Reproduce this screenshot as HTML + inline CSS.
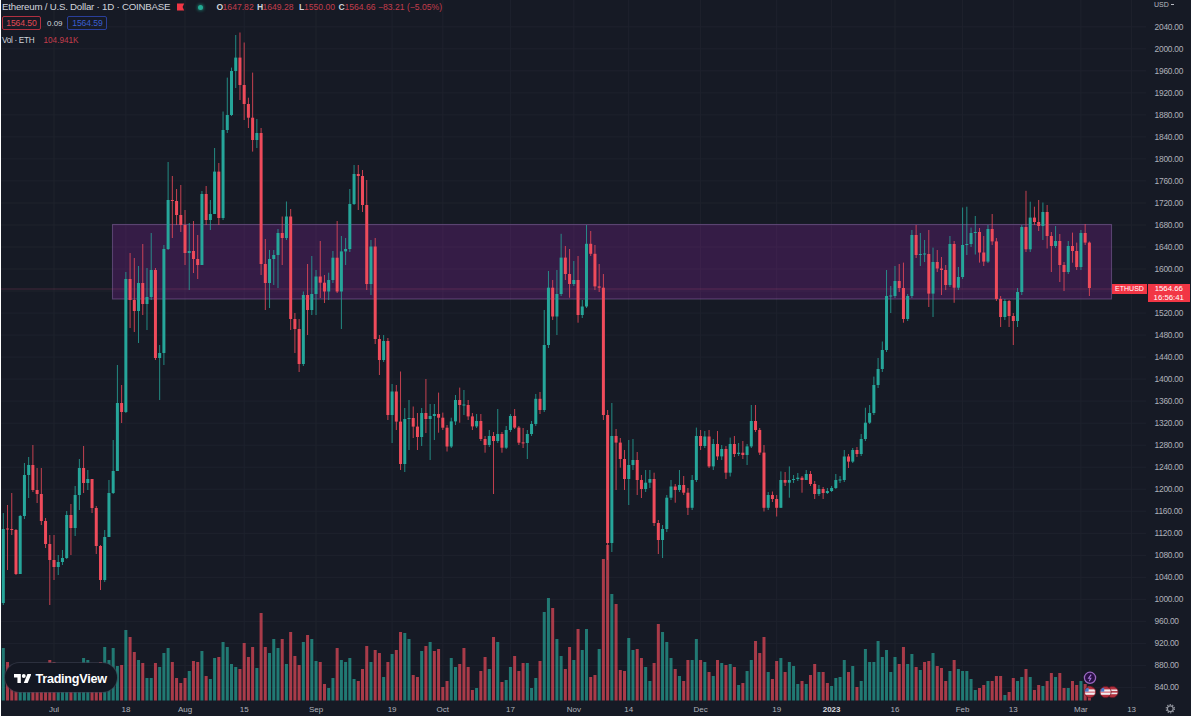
<!DOCTYPE html>
<html><head><meta charset="utf-8"><title>ETHUSD chart</title>
<style>
html,body{margin:0;padding:0;background:#fff;}
body{width:1194px;height:718px;position:relative;overflow:hidden;font-family:"Liberation Sans",Arial,sans-serif;}
#chart{position:absolute;left:1px;top:0;width:1190px;height:716px;background:#161a25;overflow:hidden;}
svg{position:absolute;left:0;top:0;}
.pa text{font-size:8.4px;letter-spacing:-0.25px;fill:#aeb1ba;}
.ta text{font-size:8px;fill:#aeb1ba;}
.ta text.b{font-weight:bold;fill:#d6d8de;}
.t{position:absolute;white-space:nowrap;line-height:1;}
.hdr{color:#d1d4dc;font-size:9.6px;}
.red{color:#c23d4c;}
.box{position:absolute;border:1px solid;border-radius:2px;font-size:8.6px;line-height:12.5px;letter-spacing:-0.1px;text-align:center;box-sizing:border-box;}
</style></head>
<body>
<div id="chart"></div>
<svg width="1194" height="718" viewBox="0 0 1194 718">
<line x1="1" y1="26.8" x2="1146" y2="26.8" stroke="#1e222d" stroke-width="1"/>
<line x1="1" y1="48.8" x2="1146" y2="48.8" stroke="#1e222d" stroke-width="1"/>
<line x1="1" y1="70.8" x2="1146" y2="70.8" stroke="#1e222d" stroke-width="1"/>
<line x1="1" y1="92.9" x2="1146" y2="92.9" stroke="#1e222d" stroke-width="1"/>
<line x1="1" y1="114.9" x2="1146" y2="114.9" stroke="#1e222d" stroke-width="1"/>
<line x1="1" y1="136.9" x2="1146" y2="136.9" stroke="#1e222d" stroke-width="1"/>
<line x1="1" y1="158.9" x2="1146" y2="158.9" stroke="#1e222d" stroke-width="1"/>
<line x1="1" y1="180.9" x2="1146" y2="180.9" stroke="#1e222d" stroke-width="1"/>
<line x1="1" y1="203.0" x2="1146" y2="203.0" stroke="#1e222d" stroke-width="1"/>
<line x1="1" y1="225.0" x2="1146" y2="225.0" stroke="#1e222d" stroke-width="1"/>
<line x1="1" y1="247.0" x2="1146" y2="247.0" stroke="#1e222d" stroke-width="1"/>
<line x1="1" y1="269.0" x2="1146" y2="269.0" stroke="#1e222d" stroke-width="1"/>
<line x1="1" y1="291.0" x2="1146" y2="291.0" stroke="#1e222d" stroke-width="1"/>
<line x1="1" y1="313.1" x2="1146" y2="313.1" stroke="#1e222d" stroke-width="1"/>
<line x1="1" y1="335.1" x2="1146" y2="335.1" stroke="#1e222d" stroke-width="1"/>
<line x1="1" y1="357.1" x2="1146" y2="357.1" stroke="#1e222d" stroke-width="1"/>
<line x1="1" y1="379.1" x2="1146" y2="379.1" stroke="#1e222d" stroke-width="1"/>
<line x1="1" y1="401.1" x2="1146" y2="401.1" stroke="#1e222d" stroke-width="1"/>
<line x1="1" y1="423.2" x2="1146" y2="423.2" stroke="#1e222d" stroke-width="1"/>
<line x1="1" y1="445.2" x2="1146" y2="445.2" stroke="#1e222d" stroke-width="1"/>
<line x1="1" y1="467.2" x2="1146" y2="467.2" stroke="#1e222d" stroke-width="1"/>
<line x1="1" y1="489.2" x2="1146" y2="489.2" stroke="#1e222d" stroke-width="1"/>
<line x1="1" y1="511.2" x2="1146" y2="511.2" stroke="#1e222d" stroke-width="1"/>
<line x1="1" y1="533.3" x2="1146" y2="533.3" stroke="#1e222d" stroke-width="1"/>
<line x1="1" y1="555.3" x2="1146" y2="555.3" stroke="#1e222d" stroke-width="1"/>
<line x1="1" y1="577.3" x2="1146" y2="577.3" stroke="#1e222d" stroke-width="1"/>
<line x1="1" y1="599.3" x2="1146" y2="599.3" stroke="#1e222d" stroke-width="1"/>
<line x1="1" y1="621.3" x2="1146" y2="621.3" stroke="#1e222d" stroke-width="1"/>
<line x1="1" y1="643.4" x2="1146" y2="643.4" stroke="#1e222d" stroke-width="1"/>
<line x1="1" y1="665.4" x2="1146" y2="665.4" stroke="#1e222d" stroke-width="1"/>
<line x1="1" y1="687.4" x2="1146" y2="687.4" stroke="#1e222d" stroke-width="1"/>
<line x1="54.0" y1="0" x2="54.0" y2="700" stroke="#1e222d" stroke-width="1"/>
<line x1="125.9" y1="0" x2="125.9" y2="700" stroke="#1e222d" stroke-width="1"/>
<line x1="185.0" y1="0" x2="185.0" y2="700" stroke="#1e222d" stroke-width="1"/>
<line x1="244.2" y1="0" x2="244.2" y2="700" stroke="#1e222d" stroke-width="1"/>
<line x1="316.0" y1="0" x2="316.0" y2="700" stroke="#1e222d" stroke-width="1"/>
<line x1="392.1" y1="0" x2="392.1" y2="700" stroke="#1e222d" stroke-width="1"/>
<line x1="442.8" y1="0" x2="442.8" y2="700" stroke="#1e222d" stroke-width="1"/>
<line x1="510.4" y1="0" x2="510.4" y2="700" stroke="#1e222d" stroke-width="1"/>
<line x1="573.8" y1="0" x2="573.8" y2="700" stroke="#1e222d" stroke-width="1"/>
<line x1="628.7" y1="0" x2="628.7" y2="700" stroke="#1e222d" stroke-width="1"/>
<line x1="700.6" y1="0" x2="700.6" y2="700" stroke="#1e222d" stroke-width="1"/>
<line x1="776.7" y1="0" x2="776.7" y2="700" stroke="#1e222d" stroke-width="1"/>
<line x1="831.6" y1="0" x2="831.6" y2="700" stroke="#1e222d" stroke-width="1"/>
<line x1="895.0" y1="0" x2="895.0" y2="700" stroke="#1e222d" stroke-width="1"/>
<line x1="962.6" y1="0" x2="962.6" y2="700" stroke="#1e222d" stroke-width="1"/>
<line x1="1013.3" y1="0" x2="1013.3" y2="700" stroke="#1e222d" stroke-width="1"/>
<line x1="1080.9" y1="0" x2="1080.9" y2="700" stroke="#1e222d" stroke-width="1"/>
<line x1="1131.6" y1="0" x2="1131.6" y2="700" stroke="#1e222d" stroke-width="1"/>
<rect x="1.80" y="648.0" width="3.0" height="52.5" fill="rgba(38,166,154,0.68)"/>
<rect x="6.03" y="662.0" width="3.0" height="38.5" fill="rgba(239,75,91,0.68)"/>
<rect x="10.25" y="666.0" width="3.0" height="34.5" fill="rgba(239,75,91,0.68)"/>
<rect x="14.48" y="668.0" width="3.0" height="32.5" fill="rgba(239,75,91,0.68)"/>
<rect x="18.70" y="670.0" width="3.0" height="30.5" fill="rgba(38,166,154,0.68)"/>
<rect x="22.93" y="668.0" width="3.0" height="32.5" fill="rgba(38,166,154,0.68)"/>
<rect x="27.16" y="670.0" width="3.0" height="30.5" fill="rgba(38,166,154,0.68)"/>
<rect x="31.38" y="666.0" width="3.0" height="34.5" fill="rgba(239,75,91,0.68)"/>
<rect x="35.61" y="670.0" width="3.0" height="30.5" fill="rgba(239,75,91,0.68)"/>
<rect x="39.83" y="668.0" width="3.0" height="32.5" fill="rgba(239,75,91,0.68)"/>
<rect x="44.06" y="668.0" width="3.0" height="32.5" fill="rgba(239,75,91,0.68)"/>
<rect x="48.29" y="660.0" width="3.0" height="40.5" fill="rgba(239,75,91,0.68)"/>
<rect x="52.51" y="662.0" width="3.0" height="38.5" fill="rgba(239,75,91,0.68)"/>
<rect x="56.74" y="668.0" width="3.0" height="32.5" fill="rgba(38,166,154,0.68)"/>
<rect x="60.96" y="670.0" width="3.0" height="30.5" fill="rgba(38,166,154,0.68)"/>
<rect x="65.19" y="668.0" width="3.0" height="32.5" fill="rgba(38,166,154,0.68)"/>
<rect x="69.42" y="670.0" width="3.0" height="30.5" fill="rgba(239,75,91,0.68)"/>
<rect x="73.64" y="668.0" width="3.0" height="32.5" fill="rgba(38,166,154,0.68)"/>
<rect x="77.87" y="666.0" width="3.0" height="34.5" fill="rgba(38,166,154,0.68)"/>
<rect x="82.09" y="658.0" width="3.0" height="42.5" fill="rgba(38,166,154,0.68)"/>
<rect x="86.32" y="660.0" width="3.0" height="40.5" fill="rgba(38,166,154,0.68)"/>
<rect x="90.55" y="670.0" width="3.0" height="30.5" fill="rgba(239,75,91,0.68)"/>
<rect x="94.77" y="668.0" width="3.0" height="32.5" fill="rgba(239,75,91,0.68)"/>
<rect x="99.00" y="662.0" width="3.0" height="38.5" fill="rgba(239,75,91,0.68)"/>
<rect x="103.22" y="647.0" width="3.0" height="53.5" fill="rgba(38,166,154,0.68)"/>
<rect x="107.45" y="660.0" width="3.0" height="40.5" fill="rgba(38,166,154,0.68)"/>
<rect x="111.68" y="648.0" width="3.0" height="52.5" fill="rgba(38,166,154,0.68)"/>
<rect x="115.90" y="666.0" width="3.0" height="34.5" fill="rgba(38,166,154,0.68)"/>
<rect x="120.13" y="665.0" width="3.0" height="35.5" fill="rgba(239,75,91,0.68)"/>
<rect x="124.35" y="630.0" width="3.0" height="70.5" fill="rgba(38,166,154,0.68)"/>
<rect x="128.58" y="637.0" width="3.0" height="63.5" fill="rgba(239,75,91,0.68)"/>
<rect x="132.81" y="652.0" width="3.0" height="48.5" fill="rgba(239,75,91,0.68)"/>
<rect x="137.03" y="660.0" width="3.0" height="40.5" fill="rgba(38,166,154,0.68)"/>
<rect x="141.26" y="663.0" width="3.0" height="37.5" fill="rgba(239,75,91,0.68)"/>
<rect x="145.48" y="678.0" width="3.0" height="22.5" fill="rgba(38,166,154,0.68)"/>
<rect x="149.71" y="678.0" width="3.0" height="22.5" fill="rgba(38,166,154,0.68)"/>
<rect x="153.94" y="663.0" width="3.0" height="37.5" fill="rgba(239,75,91,0.68)"/>
<rect x="158.16" y="667.0" width="3.0" height="33.5" fill="rgba(38,166,154,0.68)"/>
<rect x="162.39" y="653.0" width="3.0" height="47.5" fill="rgba(38,166,154,0.68)"/>
<rect x="166.61" y="648.0" width="3.0" height="52.5" fill="rgba(38,166,154,0.68)"/>
<rect x="170.84" y="662.0" width="3.0" height="38.5" fill="rgba(239,75,91,0.68)"/>
<rect x="175.07" y="678.0" width="3.0" height="22.5" fill="rgba(239,75,91,0.68)"/>
<rect x="179.29" y="683.0" width="3.0" height="17.5" fill="rgba(239,75,91,0.68)"/>
<rect x="183.52" y="678.0" width="3.0" height="22.5" fill="rgba(239,75,91,0.68)"/>
<rect x="187.74" y="671.0" width="3.0" height="29.5" fill="rgba(38,166,154,0.68)"/>
<rect x="191.97" y="661.0" width="3.0" height="39.5" fill="rgba(239,75,91,0.68)"/>
<rect x="196.20" y="662.0" width="3.0" height="38.5" fill="rgba(239,75,91,0.68)"/>
<rect x="200.42" y="651.0" width="3.0" height="49.5" fill="rgba(38,166,154,0.68)"/>
<rect x="204.65" y="676.0" width="3.0" height="24.5" fill="rgba(239,75,91,0.68)"/>
<rect x="208.87" y="679.0" width="3.0" height="21.5" fill="rgba(38,166,154,0.68)"/>
<rect x="213.10" y="658.0" width="3.0" height="42.5" fill="rgba(38,166,154,0.68)"/>
<rect x="217.33" y="657.0" width="3.0" height="43.5" fill="rgba(239,75,91,0.68)"/>
<rect x="221.55" y="642.0" width="3.0" height="58.5" fill="rgba(38,166,154,0.68)"/>
<rect x="225.78" y="647.0" width="3.0" height="53.5" fill="rgba(38,166,154,0.68)"/>
<rect x="230.00" y="664.0" width="3.0" height="36.5" fill="rgba(38,166,154,0.68)"/>
<rect x="234.23" y="667.0" width="3.0" height="33.5" fill="rgba(38,166,154,0.68)"/>
<rect x="238.46" y="669.0" width="3.0" height="31.5" fill="rgba(239,75,91,0.68)"/>
<rect x="242.68" y="643.0" width="3.0" height="57.5" fill="rgba(239,75,91,0.68)"/>
<rect x="246.91" y="657.0" width="3.0" height="43.5" fill="rgba(239,75,91,0.68)"/>
<rect x="251.13" y="647.0" width="3.0" height="53.5" fill="rgba(239,75,91,0.68)"/>
<rect x="255.36" y="668.0" width="3.0" height="32.5" fill="rgba(38,166,154,0.68)"/>
<rect x="259.59" y="613.0" width="3.0" height="87.5" fill="rgba(239,75,91,0.68)"/>
<rect x="263.81" y="647.0" width="3.0" height="53.5" fill="rgba(239,75,91,0.68)"/>
<rect x="268.04" y="653.0" width="3.0" height="47.5" fill="rgba(38,166,154,0.68)"/>
<rect x="272.26" y="639.0" width="3.0" height="61.5" fill="rgba(38,166,154,0.68)"/>
<rect x="276.49" y="648.0" width="3.0" height="52.5" fill="rgba(38,166,154,0.68)"/>
<rect x="280.72" y="639.0" width="3.0" height="61.5" fill="rgba(239,75,91,0.68)"/>
<rect x="284.94" y="664.0" width="3.0" height="36.5" fill="rgba(38,166,154,0.68)"/>
<rect x="289.17" y="632.0" width="3.0" height="68.5" fill="rgba(239,75,91,0.68)"/>
<rect x="293.39" y="656.0" width="3.0" height="44.5" fill="rgba(239,75,91,0.68)"/>
<rect x="297.62" y="665.0" width="3.0" height="35.5" fill="rgba(239,75,91,0.68)"/>
<rect x="301.85" y="642.0" width="3.0" height="58.5" fill="rgba(38,166,154,0.68)"/>
<rect x="306.07" y="635.0" width="3.0" height="65.5" fill="rgba(239,75,91,0.68)"/>
<rect x="310.30" y="639.0" width="3.0" height="61.5" fill="rgba(38,166,154,0.68)"/>
<rect x="314.52" y="661.0" width="3.0" height="39.5" fill="rgba(38,166,154,0.68)"/>
<rect x="318.75" y="662.0" width="3.0" height="38.5" fill="rgba(239,75,91,0.68)"/>
<rect x="322.98" y="684.0" width="3.0" height="16.5" fill="rgba(239,75,91,0.68)"/>
<rect x="327.20" y="688.0" width="3.0" height="12.5" fill="rgba(38,166,154,0.68)"/>
<rect x="331.43" y="678.0" width="3.0" height="22.5" fill="rgba(38,166,154,0.68)"/>
<rect x="335.65" y="648.0" width="3.0" height="52.5" fill="rgba(239,75,91,0.68)"/>
<rect x="339.88" y="660.0" width="3.0" height="40.5" fill="rgba(38,166,154,0.68)"/>
<rect x="344.11" y="662.0" width="3.0" height="38.5" fill="rgba(38,166,154,0.68)"/>
<rect x="348.33" y="658.0" width="3.0" height="42.5" fill="rgba(38,166,154,0.68)"/>
<rect x="352.56" y="679.0" width="3.0" height="21.5" fill="rgba(38,166,154,0.68)"/>
<rect x="356.78" y="681.0" width="3.0" height="19.5" fill="rgba(239,75,91,0.68)"/>
<rect x="361.01" y="669.0" width="3.0" height="31.5" fill="rgba(239,75,91,0.68)"/>
<rect x="365.24" y="646.0" width="3.0" height="54.5" fill="rgba(239,75,91,0.68)"/>
<rect x="369.46" y="662.0" width="3.0" height="38.5" fill="rgba(38,166,154,0.68)"/>
<rect x="373.69" y="650.0" width="3.0" height="50.5" fill="rgba(239,75,91,0.68)"/>
<rect x="377.91" y="653.0" width="3.0" height="47.5" fill="rgba(239,75,91,0.68)"/>
<rect x="382.14" y="677.0" width="3.0" height="23.5" fill="rgba(38,166,154,0.68)"/>
<rect x="386.37" y="662.0" width="3.0" height="38.5" fill="rgba(239,75,91,0.68)"/>
<rect x="390.59" y="654.0" width="3.0" height="46.5" fill="rgba(38,166,154,0.68)"/>
<rect x="394.82" y="650.0" width="3.0" height="50.5" fill="rgba(239,75,91,0.68)"/>
<rect x="399.04" y="632.0" width="3.0" height="68.5" fill="rgba(239,75,91,0.68)"/>
<rect x="403.27" y="633.0" width="3.0" height="67.5" fill="rgba(38,166,154,0.68)"/>
<rect x="407.50" y="639.0" width="3.0" height="61.5" fill="rgba(38,166,154,0.68)"/>
<rect x="411.72" y="675.0" width="3.0" height="25.5" fill="rgba(239,75,91,0.68)"/>
<rect x="415.95" y="677.0" width="3.0" height="23.5" fill="rgba(239,75,91,0.68)"/>
<rect x="420.17" y="651.0" width="3.0" height="49.5" fill="rgba(38,166,154,0.68)"/>
<rect x="424.40" y="646.0" width="3.0" height="54.5" fill="rgba(239,75,91,0.68)"/>
<rect x="428.63" y="642.0" width="3.0" height="58.5" fill="rgba(38,166,154,0.68)"/>
<rect x="432.85" y="651.0" width="3.0" height="49.5" fill="rgba(239,75,91,0.68)"/>
<rect x="437.08" y="649.0" width="3.0" height="51.5" fill="rgba(239,75,91,0.68)"/>
<rect x="441.30" y="687.0" width="3.0" height="13.5" fill="rgba(239,75,91,0.68)"/>
<rect x="445.53" y="681.0" width="3.0" height="19.5" fill="rgba(239,75,91,0.68)"/>
<rect x="449.76" y="658.0" width="3.0" height="42.5" fill="rgba(38,166,154,0.68)"/>
<rect x="453.98" y="667.0" width="3.0" height="33.5" fill="rgba(38,166,154,0.68)"/>
<rect x="458.21" y="664.0" width="3.0" height="36.5" fill="rgba(239,75,91,0.68)"/>
<rect x="462.43" y="648.0" width="3.0" height="52.5" fill="rgba(239,75,91,0.68)"/>
<rect x="466.66" y="667.0" width="3.0" height="33.5" fill="rgba(239,75,91,0.68)"/>
<rect x="470.89" y="690.0" width="3.0" height="10.5" fill="rgba(239,75,91,0.68)"/>
<rect x="475.11" y="688.0" width="3.0" height="12.5" fill="rgba(38,166,154,0.68)"/>
<rect x="479.34" y="671.0" width="3.0" height="29.5" fill="rgba(239,75,91,0.68)"/>
<rect x="483.56" y="657.0" width="3.0" height="43.5" fill="rgba(239,75,91,0.68)"/>
<rect x="487.79" y="669.0" width="3.0" height="31.5" fill="rgba(38,166,154,0.68)"/>
<rect x="492.02" y="637.0" width="3.0" height="63.5" fill="rgba(239,75,91,0.68)"/>
<rect x="496.24" y="642.0" width="3.0" height="58.5" fill="rgba(38,166,154,0.68)"/>
<rect x="500.47" y="682.0" width="3.0" height="18.5" fill="rgba(239,75,91,0.68)"/>
<rect x="504.69" y="680.0" width="3.0" height="20.5" fill="rgba(38,166,154,0.68)"/>
<rect x="508.92" y="667.0" width="3.0" height="33.5" fill="rgba(38,166,154,0.68)"/>
<rect x="513.15" y="656.0" width="3.0" height="44.5" fill="rgba(239,75,91,0.68)"/>
<rect x="517.37" y="671.0" width="3.0" height="29.5" fill="rgba(239,75,91,0.68)"/>
<rect x="521.60" y="663.0" width="3.0" height="37.5" fill="rgba(239,75,91,0.68)"/>
<rect x="525.82" y="663.0" width="3.0" height="37.5" fill="rgba(38,166,154,0.68)"/>
<rect x="530.05" y="688.0" width="3.0" height="12.5" fill="rgba(38,166,154,0.68)"/>
<rect x="534.28" y="678.0" width="3.0" height="22.5" fill="rgba(38,166,154,0.68)"/>
<rect x="538.50" y="661.0" width="3.0" height="39.5" fill="rgba(239,75,91,0.68)"/>
<rect x="542.73" y="612.0" width="3.0" height="88.5" fill="rgba(38,166,154,0.68)"/>
<rect x="546.95" y="598.0" width="3.0" height="102.5" fill="rgba(38,166,154,0.68)"/>
<rect x="551.18" y="608.0" width="3.0" height="92.5" fill="rgba(239,75,91,0.68)"/>
<rect x="555.41" y="639.0" width="3.0" height="61.5" fill="rgba(38,166,154,0.68)"/>
<rect x="559.63" y="656.0" width="3.0" height="44.5" fill="rgba(38,166,154,0.68)"/>
<rect x="563.86" y="669.0" width="3.0" height="31.5" fill="rgba(239,75,91,0.68)"/>
<rect x="568.08" y="647.0" width="3.0" height="53.5" fill="rgba(239,75,91,0.68)"/>
<rect x="572.31" y="660.0" width="3.0" height="40.5" fill="rgba(38,166,154,0.68)"/>
<rect x="576.54" y="629.0" width="3.0" height="71.5" fill="rgba(239,75,91,0.68)"/>
<rect x="580.76" y="650.0" width="3.0" height="50.5" fill="rgba(38,166,154,0.68)"/>
<rect x="584.99" y="629.0" width="3.0" height="71.5" fill="rgba(38,166,154,0.68)"/>
<rect x="589.21" y="677.0" width="3.0" height="23.5" fill="rgba(239,75,91,0.68)"/>
<rect x="593.44" y="675.0" width="3.0" height="25.5" fill="rgba(239,75,91,0.68)"/>
<rect x="597.67" y="649.0" width="3.0" height="51.5" fill="rgba(38,166,154,0.68)"/>
<rect x="601.89" y="559.0" width="3.0" height="141.5" fill="rgba(239,75,91,0.68)"/>
<rect x="606.12" y="545.0" width="3.0" height="155.5" fill="rgba(239,75,91,0.68)"/>
<rect x="610.34" y="594.0" width="3.0" height="106.5" fill="rgba(38,166,154,0.68)"/>
<rect x="614.57" y="604.0" width="3.0" height="96.5" fill="rgba(239,75,91,0.68)"/>
<rect x="618.80" y="670.0" width="3.0" height="30.5" fill="rgba(239,75,91,0.68)"/>
<rect x="623.02" y="671.0" width="3.0" height="29.5" fill="rgba(239,75,91,0.68)"/>
<rect x="627.25" y="638.0" width="3.0" height="62.5" fill="rgba(38,166,154,0.68)"/>
<rect x="631.47" y="650.0" width="3.0" height="50.5" fill="rgba(38,166,154,0.68)"/>
<rect x="635.70" y="649.0" width="3.0" height="51.5" fill="rgba(239,75,91,0.68)"/>
<rect x="639.93" y="658.0" width="3.0" height="42.5" fill="rgba(239,75,91,0.68)"/>
<rect x="644.15" y="667.0" width="3.0" height="33.5" fill="rgba(38,166,154,0.68)"/>
<rect x="648.38" y="681.0" width="3.0" height="19.5" fill="rgba(38,166,154,0.68)"/>
<rect x="652.60" y="663.0" width="3.0" height="37.5" fill="rgba(239,75,91,0.68)"/>
<rect x="656.83" y="624.0" width="3.0" height="76.5" fill="rgba(239,75,91,0.68)"/>
<rect x="661.06" y="632.0" width="3.0" height="68.5" fill="rgba(38,166,154,0.68)"/>
<rect x="665.28" y="642.0" width="3.0" height="58.5" fill="rgba(38,166,154,0.68)"/>
<rect x="669.51" y="658.0" width="3.0" height="42.5" fill="rgba(38,166,154,0.68)"/>
<rect x="673.73" y="669.0" width="3.0" height="31.5" fill="rgba(239,75,91,0.68)"/>
<rect x="677.96" y="676.0" width="3.0" height="24.5" fill="rgba(38,166,154,0.68)"/>
<rect x="682.19" y="681.0" width="3.0" height="19.5" fill="rgba(239,75,91,0.68)"/>
<rect x="686.41" y="660.0" width="3.0" height="40.5" fill="rgba(239,75,91,0.68)"/>
<rect x="690.64" y="660.0" width="3.0" height="40.5" fill="rgba(38,166,154,0.68)"/>
<rect x="694.86" y="639.0" width="3.0" height="61.5" fill="rgba(38,166,154,0.68)"/>
<rect x="699.09" y="660.0" width="3.0" height="40.5" fill="rgba(239,75,91,0.68)"/>
<rect x="703.32" y="662.0" width="3.0" height="38.5" fill="rgba(38,166,154,0.68)"/>
<rect x="707.54" y="672.0" width="3.0" height="28.5" fill="rgba(239,75,91,0.68)"/>
<rect x="711.77" y="676.0" width="3.0" height="24.5" fill="rgba(38,166,154,0.68)"/>
<rect x="715.99" y="660.0" width="3.0" height="40.5" fill="rgba(239,75,91,0.68)"/>
<rect x="720.22" y="663.0" width="3.0" height="37.5" fill="rgba(38,166,154,0.68)"/>
<rect x="724.45" y="665.0" width="3.0" height="35.5" fill="rgba(239,75,91,0.68)"/>
<rect x="728.67" y="664.0" width="3.0" height="36.5" fill="rgba(38,166,154,0.68)"/>
<rect x="732.90" y="667.0" width="3.0" height="33.5" fill="rgba(239,75,91,0.68)"/>
<rect x="737.12" y="685.0" width="3.0" height="15.5" fill="rgba(38,166,154,0.68)"/>
<rect x="741.35" y="683.0" width="3.0" height="17.5" fill="rgba(239,75,91,0.68)"/>
<rect x="745.58" y="671.0" width="3.0" height="29.5" fill="rgba(38,166,154,0.68)"/>
<rect x="749.80" y="660.0" width="3.0" height="40.5" fill="rgba(38,166,154,0.68)"/>
<rect x="754.03" y="641.0" width="3.0" height="59.5" fill="rgba(239,75,91,0.68)"/>
<rect x="758.25" y="653.0" width="3.0" height="47.5" fill="rgba(239,75,91,0.68)"/>
<rect x="762.48" y="637.0" width="3.0" height="63.5" fill="rgba(239,75,91,0.68)"/>
<rect x="766.71" y="672.0" width="3.0" height="28.5" fill="rgba(38,166,154,0.68)"/>
<rect x="770.93" y="679.0" width="3.0" height="21.5" fill="rgba(239,75,91,0.68)"/>
<rect x="775.16" y="661.0" width="3.0" height="39.5" fill="rgba(239,75,91,0.68)"/>
<rect x="779.38" y="658.0" width="3.0" height="42.5" fill="rgba(38,166,154,0.68)"/>
<rect x="783.61" y="672.0" width="3.0" height="28.5" fill="rgba(239,75,91,0.68)"/>
<rect x="787.84" y="662.0" width="3.0" height="38.5" fill="rgba(38,166,154,0.68)"/>
<rect x="792.06" y="666.0" width="3.0" height="34.5" fill="rgba(38,166,154,0.68)"/>
<rect x="796.29" y="684.0" width="3.0" height="16.5" fill="rgba(38,166,154,0.68)"/>
<rect x="800.51" y="681.0" width="3.0" height="19.5" fill="rgba(239,75,91,0.68)"/>
<rect x="804.74" y="684.0" width="3.0" height="16.5" fill="rgba(38,166,154,0.68)"/>
<rect x="808.97" y="675.0" width="3.0" height="25.5" fill="rgba(239,75,91,0.68)"/>
<rect x="813.19" y="664.0" width="3.0" height="36.5" fill="rgba(239,75,91,0.68)"/>
<rect x="817.42" y="672.0" width="3.0" height="28.5" fill="rgba(38,166,154,0.68)"/>
<rect x="821.64" y="672.0" width="3.0" height="28.5" fill="rgba(239,75,91,0.68)"/>
<rect x="825.87" y="683.0" width="3.0" height="17.5" fill="rgba(239,75,91,0.68)"/>
<rect x="830.10" y="686.0" width="3.0" height="14.5" fill="rgba(38,166,154,0.68)"/>
<rect x="834.32" y="678.0" width="3.0" height="22.5" fill="rgba(38,166,154,0.68)"/>
<rect x="838.55" y="677.0" width="3.0" height="23.5" fill="rgba(38,166,154,0.68)"/>
<rect x="842.77" y="660.0" width="3.0" height="40.5" fill="rgba(38,166,154,0.68)"/>
<rect x="847.00" y="672.0" width="3.0" height="28.5" fill="rgba(239,75,91,0.68)"/>
<rect x="851.23" y="666.0" width="3.0" height="34.5" fill="rgba(38,166,154,0.68)"/>
<rect x="855.45" y="687.0" width="3.0" height="13.5" fill="rgba(239,75,91,0.68)"/>
<rect x="859.68" y="681.0" width="3.0" height="19.5" fill="rgba(38,166,154,0.68)"/>
<rect x="863.90" y="649.0" width="3.0" height="51.5" fill="rgba(38,166,154,0.68)"/>
<rect x="868.13" y="662.0" width="3.0" height="38.5" fill="rgba(38,166,154,0.68)"/>
<rect x="872.36" y="662.0" width="3.0" height="38.5" fill="rgba(38,166,154,0.68)"/>
<rect x="876.58" y="641.0" width="3.0" height="59.5" fill="rgba(38,166,154,0.68)"/>
<rect x="880.81" y="657.0" width="3.0" height="43.5" fill="rgba(38,166,154,0.68)"/>
<rect x="885.03" y="650.0" width="3.0" height="50.5" fill="rgba(38,166,154,0.68)"/>
<rect x="889.26" y="672.0" width="3.0" height="28.5" fill="rgba(38,166,154,0.68)"/>
<rect x="893.49" y="657.0" width="3.0" height="43.5" fill="rgba(38,166,154,0.68)"/>
<rect x="897.71" y="664.0" width="3.0" height="36.5" fill="rgba(239,75,91,0.68)"/>
<rect x="901.94" y="647.0" width="3.0" height="53.5" fill="rgba(239,75,91,0.68)"/>
<rect x="906.16" y="664.0" width="3.0" height="36.5" fill="rgba(38,166,154,0.68)"/>
<rect x="910.39" y="654.0" width="3.0" height="46.5" fill="rgba(38,166,154,0.68)"/>
<rect x="914.62" y="667.0" width="3.0" height="33.5" fill="rgba(239,75,91,0.68)"/>
<rect x="918.84" y="670.0" width="3.0" height="30.5" fill="rgba(38,166,154,0.68)"/>
<rect x="923.07" y="662.0" width="3.0" height="38.5" fill="rgba(239,75,91,0.68)"/>
<rect x="927.29" y="661.0" width="3.0" height="39.5" fill="rgba(239,75,91,0.68)"/>
<rect x="931.52" y="653.0" width="3.0" height="47.5" fill="rgba(38,166,154,0.68)"/>
<rect x="935.75" y="666.0" width="3.0" height="34.5" fill="rgba(239,75,91,0.68)"/>
<rect x="939.97" y="668.0" width="3.0" height="32.5" fill="rgba(239,75,91,0.68)"/>
<rect x="944.20" y="681.0" width="3.0" height="19.5" fill="rgba(239,75,91,0.68)"/>
<rect x="948.42" y="671.0" width="3.0" height="29.5" fill="rgba(38,166,154,0.68)"/>
<rect x="952.65" y="660.0" width="3.0" height="40.5" fill="rgba(239,75,91,0.68)"/>
<rect x="956.88" y="669.0" width="3.0" height="31.5" fill="rgba(38,166,154,0.68)"/>
<rect x="961.10" y="671.0" width="3.0" height="29.5" fill="rgba(38,166,154,0.68)"/>
<rect x="965.33" y="671.0" width="3.0" height="29.5" fill="rgba(38,166,154,0.68)"/>
<rect x="969.55" y="679.0" width="3.0" height="21.5" fill="rgba(38,166,154,0.68)"/>
<rect x="973.78" y="690.0" width="3.0" height="10.5" fill="rgba(38,166,154,0.68)"/>
<rect x="978.01" y="688.0" width="3.0" height="12.5" fill="rgba(239,75,91,0.68)"/>
<rect x="982.23" y="685.0" width="3.0" height="15.5" fill="rgba(239,75,91,0.68)"/>
<rect x="986.46" y="681.0" width="3.0" height="19.5" fill="rgba(38,166,154,0.68)"/>
<rect x="990.68" y="681.0" width="3.0" height="19.5" fill="rgba(239,75,91,0.68)"/>
<rect x="994.91" y="676.0" width="3.0" height="24.5" fill="rgba(239,75,91,0.68)"/>
<rect x="999.14" y="676.0" width="3.0" height="24.5" fill="rgba(239,75,91,0.68)"/>
<rect x="1003.36" y="695.0" width="3.0" height="5.5" fill="rgba(38,166,154,0.68)"/>
<rect x="1007.59" y="692.0" width="3.0" height="8.5" fill="rgba(239,75,91,0.68)"/>
<rect x="1011.81" y="678.0" width="3.0" height="22.5" fill="rgba(239,75,91,0.68)"/>
<rect x="1016.04" y="681.0" width="3.0" height="19.5" fill="rgba(38,166,154,0.68)"/>
<rect x="1020.27" y="677.0" width="3.0" height="23.5" fill="rgba(38,166,154,0.68)"/>
<rect x="1024.49" y="669.0" width="3.0" height="31.5" fill="rgba(239,75,91,0.68)"/>
<rect x="1028.72" y="677.0" width="3.0" height="23.5" fill="rgba(38,166,154,0.68)"/>
<rect x="1032.94" y="690.0" width="3.0" height="10.5" fill="rgba(239,75,91,0.68)"/>
<rect x="1037.17" y="685.0" width="3.0" height="15.5" fill="rgba(239,75,91,0.68)"/>
<rect x="1041.40" y="686.0" width="3.0" height="14.5" fill="rgba(38,166,154,0.68)"/>
<rect x="1045.62" y="681.0" width="3.0" height="19.5" fill="rgba(239,75,91,0.68)"/>
<rect x="1049.85" y="673.0" width="3.0" height="27.5" fill="rgba(239,75,91,0.68)"/>
<rect x="1054.07" y="677.0" width="3.0" height="23.5" fill="rgba(38,166,154,0.68)"/>
<rect x="1058.30" y="673.0" width="3.0" height="27.5" fill="rgba(239,75,91,0.68)"/>
<rect x="1062.53" y="688.0" width="3.0" height="12.5" fill="rgba(239,75,91,0.68)"/>
<rect x="1066.75" y="688.0" width="3.0" height="12.5" fill="rgba(38,166,154,0.68)"/>
<rect x="1070.98" y="681.0" width="3.0" height="19.5" fill="rgba(239,75,91,0.68)"/>
<rect x="1075.20" y="685.0" width="3.0" height="15.5" fill="rgba(239,75,91,0.68)"/>
<rect x="1079.43" y="681.0" width="3.0" height="19.5" fill="rgba(38,166,154,0.68)"/>
<rect x="1083.66" y="684.0" width="3.0" height="16.5" fill="rgba(239,75,91,0.68)"/>
<rect x="1087.88" y="686.0" width="3.0" height="14.5" fill="rgba(239,75,91,0.68)"/>
<rect x="112.5" y="224.5" width="999" height="74.5" fill="rgba(156,39,176,0.24)" stroke="rgba(140,105,170,0.5)" stroke-width="1.1"/>
<line x1="1" y1="289" x2="1147" y2="289" stroke="rgba(200,80,120,0.25)" stroke-width="1"/>
<g fill="#26a69a" opacity="0.8"><rect x="2.80" y="513.0" width="1.0" height="92.0"/><rect x="19.70" y="515.0" width="1.0" height="59.0"/><rect x="23.93" y="463.0" width="1.0" height="56.0"/><rect x="28.16" y="457.0" width="1.0" height="41.0"/><rect x="57.74" y="555.0" width="1.0" height="20.0"/><rect x="61.96" y="550.0" width="1.0" height="15.0"/><rect x="66.19" y="511.0" width="1.0" height="48.0"/><rect x="74.64" y="486.0" width="1.0" height="50.0"/><rect x="78.87" y="459.0" width="1.0" height="51.0"/><rect x="87.32" y="470.0" width="1.0" height="20.0"/><rect x="104.22" y="530.0" width="1.0" height="52.0"/><rect x="108.45" y="480.0" width="1.0" height="57.0"/><rect x="112.68" y="440.0" width="1.0" height="54.0"/><rect x="116.90" y="365.0" width="1.0" height="106.0"/><rect x="125.35" y="272.0" width="1.0" height="141.0"/><rect x="138.03" y="266.0" width="1.0" height="77.0"/><rect x="146.48" y="268.0" width="1.0" height="62.0"/><rect x="150.71" y="233.0" width="1.0" height="67.0"/><rect x="159.16" y="345.0" width="1.0" height="55.0"/><rect x="163.39" y="245.0" width="1.0" height="120.0"/><rect x="167.61" y="162.0" width="1.0" height="88.0"/><rect x="188.74" y="223.0" width="1.0" height="67.0"/><rect x="201.42" y="191.0" width="1.0" height="74.0"/><rect x="209.87" y="200.0" width="1.0" height="30.0"/><rect x="214.10" y="148.0" width="1.0" height="66.0"/><rect x="222.55" y="111.5" width="1.0" height="108.5"/><rect x="226.78" y="77.6" width="1.0" height="55.4"/><rect x="231.00" y="67.6" width="1.0" height="48.4"/><rect x="235.23" y="35.0" width="1.0" height="53.0"/><rect x="256.36" y="119.0" width="1.0" height="29.0"/><rect x="269.04" y="250.0" width="1.0" height="58.0"/><rect x="273.26" y="250.0" width="1.0" height="35.0"/><rect x="277.49" y="229.0" width="1.0" height="59.0"/><rect x="285.94" y="201.5" width="1.0" height="38.5"/><rect x="302.85" y="291.5" width="1.0" height="74.5"/><rect x="311.30" y="256.0" width="1.0" height="59.0"/><rect x="315.52" y="270.0" width="1.0" height="45.0"/><rect x="328.20" y="272.7" width="1.0" height="27.3"/><rect x="332.43" y="251.0" width="1.0" height="32.0"/><rect x="340.88" y="236.0" width="1.0" height="93.0"/><rect x="345.11" y="238.0" width="1.0" height="27.0"/><rect x="349.33" y="189.0" width="1.0" height="63.0"/><rect x="353.56" y="165.0" width="1.0" height="40.0"/><rect x="370.46" y="240.0" width="1.0" height="55.0"/><rect x="383.14" y="335.0" width="1.0" height="27.0"/><rect x="391.59" y="384.0" width="1.0" height="59.0"/><rect x="404.27" y="408.0" width="1.0" height="64.0"/><rect x="408.50" y="400.0" width="1.0" height="50.0"/><rect x="421.17" y="408.0" width="1.0" height="38.0"/><rect x="429.63" y="404.0" width="1.0" height="56.0"/><rect x="433.85" y="404.0" width="1.0" height="36.0"/><rect x="450.76" y="417.7" width="1.0" height="30.3"/><rect x="454.98" y="395.0" width="1.0" height="30.0"/><rect x="463.43" y="390.0" width="1.0" height="25.0"/><rect x="476.11" y="414.0" width="1.0" height="14.0"/><rect x="488.79" y="430.0" width="1.0" height="17.0"/><rect x="497.24" y="409.0" width="1.0" height="34.0"/><rect x="505.69" y="426.0" width="1.0" height="23.0"/><rect x="509.92" y="414.0" width="1.0" height="18.0"/><rect x="526.82" y="430.0" width="1.0" height="29.0"/><rect x="531.05" y="421.0" width="1.0" height="15.0"/><rect x="535.28" y="394.0" width="1.0" height="32.0"/><rect x="543.73" y="310.0" width="1.0" height="102.0"/><rect x="547.95" y="271.0" width="1.0" height="77.0"/><rect x="556.41" y="270.0" width="1.0" height="65.0"/><rect x="560.63" y="233.8" width="1.0" height="62.2"/><rect x="573.31" y="261.0" width="1.0" height="25.0"/><rect x="581.76" y="300.0" width="1.0" height="18.0"/><rect x="585.99" y="225.0" width="1.0" height="83.0"/><rect x="611.34" y="403.0" width="1.0" height="149.0"/><rect x="628.25" y="440.0" width="1.0" height="65.0"/><rect x="632.47" y="439.0" width="1.0" height="31.0"/><rect x="645.15" y="470.0" width="1.0" height="22.0"/><rect x="649.38" y="470.0" width="1.0" height="18.0"/><rect x="662.06" y="525.0" width="1.0" height="33.0"/><rect x="666.28" y="495.0" width="1.0" height="37.0"/><rect x="670.51" y="480.0" width="1.0" height="20.0"/><rect x="678.96" y="470.0" width="1.0" height="22.0"/><rect x="691.64" y="475.0" width="1.0" height="35.0"/><rect x="695.86" y="427.6" width="1.0" height="54.4"/><rect x="704.32" y="431.0" width="1.0" height="17.0"/><rect x="712.77" y="439.0" width="1.0" height="31.0"/><rect x="721.22" y="445.0" width="1.0" height="15.0"/><rect x="729.67" y="437.6" width="1.0" height="38.9"/><rect x="738.12" y="443.0" width="1.0" height="13.0"/><rect x="746.58" y="444.0" width="1.0" height="21.0"/><rect x="750.80" y="405.0" width="1.0" height="43.0"/><rect x="767.71" y="492.0" width="1.0" height="18.0"/><rect x="780.38" y="471.4" width="1.0" height="36.6"/><rect x="788.84" y="466.4" width="1.0" height="31.3"/><rect x="793.06" y="475.0" width="1.0" height="8.0"/><rect x="797.29" y="473.0" width="1.0" height="8.0"/><rect x="805.74" y="470.0" width="1.0" height="10.0"/><rect x="818.42" y="485.0" width="1.0" height="11.0"/><rect x="826.87" y="488.0" width="1.0" height="6.0"/><rect x="831.10" y="486.0" width="1.0" height="6.0"/><rect x="835.32" y="474.0" width="1.0" height="15.0"/><rect x="839.55" y="476.0" width="1.0" height="7.0"/><rect x="843.77" y="450.0" width="1.0" height="32.0"/><rect x="852.23" y="448.0" width="1.0" height="15.0"/><rect x="860.68" y="434.0" width="1.0" height="22.0"/><rect x="864.90" y="407.7" width="1.0" height="33.3"/><rect x="869.13" y="405.0" width="1.0" height="19.0"/><rect x="873.36" y="376.6" width="1.0" height="38.4"/><rect x="877.58" y="358.0" width="1.0" height="30.0"/><rect x="881.81" y="341.5" width="1.0" height="30.5"/><rect x="886.03" y="270.0" width="1.0" height="82.0"/><rect x="890.26" y="286.0" width="1.0" height="27.0"/><rect x="894.49" y="266.0" width="1.0" height="32.0"/><rect x="907.16" y="294.0" width="1.0" height="27.0"/><rect x="911.39" y="230.0" width="1.0" height="68.0"/><rect x="919.84" y="233.0" width="1.0" height="33.0"/><rect x="924.07" y="240.0" width="1.0" height="22.0"/><rect x="932.52" y="247.6" width="1.0" height="69.4"/><rect x="949.42" y="236.0" width="1.0" height="51.0"/><rect x="957.88" y="267.0" width="1.0" height="23.0"/><rect x="962.10" y="207.5" width="1.0" height="71.5"/><rect x="966.33" y="206.7" width="1.0" height="48.3"/><rect x="970.55" y="227.6" width="1.0" height="19.4"/><rect x="974.78" y="216.0" width="1.0" height="38.5"/><rect x="987.46" y="225.0" width="1.0" height="38.0"/><rect x="1004.36" y="299.0" width="1.0" height="21.0"/><rect x="1017.04" y="288.0" width="1.0" height="39.0"/><rect x="1021.27" y="225.0" width="1.0" height="70.0"/><rect x="1029.72" y="201.7" width="1.0" height="50.3"/><rect x="1042.40" y="202.5" width="1.0" height="37.5"/><rect x="1055.07" y="226.0" width="1.0" height="22.0"/><rect x="1067.75" y="241.0" width="1.0" height="33.0"/><rect x="1080.43" y="230.0" width="1.0" height="40.0"/></g>
<g fill="#ef4b5b" opacity="0.8"><rect x="7.03" y="505.0" width="1.0" height="65.0"/><rect x="11.25" y="493.0" width="1.0" height="42.0"/><rect x="15.48" y="529.0" width="1.0" height="46.0"/><rect x="32.38" y="445.0" width="1.0" height="47.0"/><rect x="36.61" y="468.0" width="1.0" height="35.0"/><rect x="40.83" y="468.0" width="1.0" height="57.0"/><rect x="45.06" y="518.0" width="1.0" height="30.0"/><rect x="49.29" y="535.0" width="1.0" height="70.0"/><rect x="53.51" y="535.0" width="1.0" height="45.0"/><rect x="70.42" y="504.0" width="1.0" height="51.0"/><rect x="83.09" y="446.0" width="1.0" height="47.0"/><rect x="91.55" y="479.0" width="1.0" height="34.0"/><rect x="95.77" y="506.0" width="1.0" height="48.0"/><rect x="100.00" y="545.0" width="1.0" height="45.0"/><rect x="121.13" y="385.0" width="1.0" height="38.0"/><rect x="129.58" y="253.0" width="1.0" height="75.0"/><rect x="133.81" y="258.0" width="1.0" height="74.0"/><rect x="142.26" y="244.0" width="1.0" height="71.0"/><rect x="154.94" y="268.0" width="1.0" height="92.0"/><rect x="171.84" y="176.0" width="1.0" height="62.0"/><rect x="176.07" y="189.0" width="1.0" height="36.0"/><rect x="180.29" y="185.0" width="1.0" height="47.0"/><rect x="184.52" y="210.0" width="1.0" height="55.0"/><rect x="192.97" y="221.0" width="1.0" height="52.0"/><rect x="197.20" y="235.0" width="1.0" height="44.0"/><rect x="205.65" y="186.0" width="1.0" height="39.0"/><rect x="218.33" y="163.0" width="1.0" height="62.0"/><rect x="239.46" y="32.5" width="1.0" height="67.5"/><rect x="243.68" y="42.5" width="1.0" height="77.5"/><rect x="247.91" y="97.7" width="1.0" height="30.3"/><rect x="252.13" y="72.6" width="1.0" height="79.0"/><rect x="260.59" y="128.0" width="1.0" height="147.0"/><rect x="264.81" y="239.0" width="1.0" height="71.0"/><rect x="281.72" y="216.5" width="1.0" height="48.5"/><rect x="290.17" y="209.0" width="1.0" height="121.0"/><rect x="294.39" y="313.0" width="1.0" height="40.0"/><rect x="298.62" y="319.0" width="1.0" height="53.0"/><rect x="307.07" y="264.0" width="1.0" height="71.0"/><rect x="319.75" y="241.0" width="1.0" height="57.0"/><rect x="323.98" y="275.0" width="1.0" height="28.0"/><rect x="336.65" y="221.0" width="1.0" height="72.0"/><rect x="357.78" y="165.0" width="1.0" height="45.0"/><rect x="362.01" y="170.0" width="1.0" height="42.0"/><rect x="366.24" y="180.0" width="1.0" height="110.0"/><rect x="374.69" y="238.0" width="1.0" height="106.0"/><rect x="378.91" y="335.0" width="1.0" height="40.0"/><rect x="387.37" y="338.0" width="1.0" height="82.0"/><rect x="395.82" y="385.0" width="1.0" height="45.0"/><rect x="400.04" y="371.5" width="1.0" height="98.5"/><rect x="412.72" y="406.5" width="1.0" height="31.5"/><rect x="416.95" y="413.0" width="1.0" height="37.0"/><rect x="425.40" y="379.0" width="1.0" height="54.0"/><rect x="438.08" y="392.6" width="1.0" height="40.1"/><rect x="442.30" y="412.6" width="1.0" height="17.4"/><rect x="446.53" y="425.0" width="1.0" height="26.5"/><rect x="459.21" y="387.6" width="1.0" height="35.1"/><rect x="467.66" y="400.0" width="1.0" height="20.0"/><rect x="471.89" y="413.0" width="1.0" height="17.0"/><rect x="480.34" y="414.0" width="1.0" height="27.0"/><rect x="484.56" y="436.0" width="1.0" height="16.7"/><rect x="493.02" y="432.0" width="1.0" height="62.0"/><rect x="501.47" y="432.0" width="1.0" height="20.7"/><rect x="514.15" y="409.0" width="1.0" height="20.0"/><rect x="518.37" y="426.0" width="1.0" height="19.0"/><rect x="522.60" y="428.0" width="1.0" height="20.0"/><rect x="539.50" y="392.0" width="1.0" height="22.0"/><rect x="552.18" y="280.0" width="1.0" height="40.0"/><rect x="564.86" y="246.0" width="1.0" height="34.0"/><rect x="569.08" y="249.0" width="1.0" height="48.7"/><rect x="577.54" y="256.0" width="1.0" height="66.7"/><rect x="590.21" y="231.0" width="1.0" height="25.0"/><rect x="594.44" y="245.0" width="1.0" height="45.0"/><rect x="598.67" y="264.0" width="1.0" height="28.0"/><rect x="602.89" y="274.0" width="1.0" height="146.0"/><rect x="607.12" y="410.0" width="1.0" height="150.0"/><rect x="615.57" y="429.0" width="1.0" height="61.0"/><rect x="619.80" y="438.0" width="1.0" height="29.7"/><rect x="624.02" y="450.0" width="1.0" height="40.0"/><rect x="636.70" y="452.0" width="1.0" height="43.0"/><rect x="640.93" y="475.0" width="1.0" height="23.0"/><rect x="653.60" y="472.7" width="1.0" height="53.3"/><rect x="657.83" y="520.0" width="1.0" height="34.0"/><rect x="674.73" y="484.0" width="1.0" height="18.7"/><rect x="683.19" y="476.0" width="1.0" height="19.0"/><rect x="687.41" y="488.0" width="1.0" height="27.0"/><rect x="700.09" y="430.0" width="1.0" height="20.0"/><rect x="708.54" y="430.0" width="1.0" height="38.0"/><rect x="716.99" y="431.0" width="1.0" height="29.0"/><rect x="725.45" y="446.0" width="1.0" height="33.0"/><rect x="733.90" y="436.0" width="1.0" height="21.0"/><rect x="742.35" y="441.0" width="1.0" height="18.0"/><rect x="755.03" y="405.0" width="1.0" height="27.0"/><rect x="759.25" y="428.0" width="1.0" height="27.0"/><rect x="763.48" y="445.0" width="1.0" height="66.5"/><rect x="771.93" y="491.5" width="1.0" height="10.5"/><rect x="776.16" y="495.0" width="1.0" height="21.5"/><rect x="784.61" y="472.0" width="1.0" height="14.0"/><rect x="801.51" y="476.0" width="1.0" height="16.7"/><rect x="809.97" y="471.0" width="1.0" height="15.0"/><rect x="814.19" y="481.0" width="1.0" height="18.0"/><rect x="822.64" y="487.0" width="1.0" height="12.0"/><rect x="848.00" y="454.0" width="1.0" height="14.0"/><rect x="856.45" y="447.0" width="1.0" height="10.0"/><rect x="898.71" y="264.0" width="1.0" height="28.0"/><rect x="902.94" y="262.6" width="1.0" height="60.1"/><rect x="915.62" y="225.0" width="1.0" height="33.0"/><rect x="928.29" y="230.0" width="1.0" height="77.0"/><rect x="936.75" y="250.0" width="1.0" height="22.0"/><rect x="940.97" y="257.0" width="1.0" height="38.0"/><rect x="945.20" y="265.0" width="1.0" height="25.0"/><rect x="953.65" y="241.0" width="1.0" height="61.8"/><rect x="979.01" y="228.0" width="1.0" height="34.6"/><rect x="983.23" y="236.0" width="1.0" height="30.0"/><rect x="991.68" y="214.0" width="1.0" height="31.0"/><rect x="995.91" y="238.0" width="1.0" height="63.0"/><rect x="1000.14" y="296.0" width="1.0" height="31.0"/><rect x="1008.59" y="300.0" width="1.0" height="27.0"/><rect x="1012.81" y="313.0" width="1.0" height="32.0"/><rect x="1025.49" y="190.8" width="1.0" height="61.2"/><rect x="1033.94" y="206.7" width="1.0" height="18.3"/><rect x="1038.17" y="200.0" width="1.0" height="31.0"/><rect x="1046.62" y="205.0" width="1.0" height="43.5"/><rect x="1050.85" y="232.0" width="1.0" height="40.0"/><rect x="1059.30" y="234.0" width="1.0" height="48.0"/><rect x="1063.53" y="262.0" width="1.0" height="29.0"/><rect x="1071.98" y="232.6" width="1.0" height="30.1"/><rect x="1076.20" y="242.6" width="1.0" height="27.4"/><rect x="1084.66" y="224.0" width="1.0" height="21.0"/><rect x="1088.88" y="241.5" width="1.0" height="54.5"/></g>
<g fill="#26a69a"><rect x="1.80" y="529.0" width="3.0" height="74.0"/><rect x="18.70" y="516.0" width="3.0" height="58.0"/><rect x="22.93" y="475.0" width="3.0" height="41.0"/><rect x="27.16" y="465.0" width="3.0" height="10.0"/><rect x="56.74" y="562.0" width="3.0" height="5.0"/><rect x="60.96" y="558.0" width="3.0" height="4.0"/><rect x="65.19" y="515.0" width="3.0" height="43.0"/><rect x="73.64" y="495.0" width="3.0" height="33.0"/><rect x="77.87" y="468.0" width="3.0" height="27.0"/><rect x="86.32" y="479.0" width="3.0" height="4.0"/><rect x="103.22" y="537.0" width="3.0" height="43.0"/><rect x="107.45" y="493.0" width="3.0" height="44.0"/><rect x="111.68" y="471.0" width="3.0" height="22.0"/><rect x="115.90" y="403.0" width="3.0" height="68.0"/><rect x="124.35" y="279.0" width="3.0" height="133.0"/><rect x="137.03" y="283.0" width="3.0" height="28.0"/><rect x="145.48" y="297.0" width="3.0" height="7.0"/><rect x="149.71" y="270.0" width="3.0" height="27.0"/><rect x="158.16" y="353.0" width="3.0" height="5.0"/><rect x="162.39" y="249.0" width="3.0" height="104.0"/><rect x="166.61" y="200.0" width="3.0" height="49.0"/><rect x="187.74" y="251.0" width="3.0" height="2.0"/><rect x="200.42" y="194.0" width="3.0" height="71.0"/><rect x="208.87" y="214.0" width="3.0" height="6.0"/><rect x="213.10" y="171.6" width="3.0" height="42.4"/><rect x="221.55" y="130.0" width="3.0" height="88.0"/><rect x="225.78" y="115.0" width="3.0" height="15.0"/><rect x="230.00" y="71.0" width="3.0" height="44.0"/><rect x="234.23" y="57.6" width="3.0" height="13.4"/><rect x="255.36" y="133.0" width="3.0" height="7.0"/><rect x="268.04" y="259.0" width="3.0" height="24.0"/><rect x="272.26" y="255.0" width="3.0" height="4.0"/><rect x="276.49" y="233.0" width="3.0" height="22.0"/><rect x="284.94" y="216.5" width="3.0" height="21.5"/><rect x="301.85" y="295.0" width="3.0" height="69.0"/><rect x="310.30" y="294.0" width="3.0" height="16.0"/><rect x="314.52" y="276.5" width="3.0" height="17.5"/><rect x="327.20" y="280.0" width="3.0" height="11.5"/><rect x="331.43" y="257.7" width="3.0" height="22.3"/><rect x="339.88" y="251.4" width="3.0" height="40.1"/><rect x="344.11" y="249.0" width="3.0" height="2.4"/><rect x="348.33" y="204.0" width="3.0" height="45.0"/><rect x="352.56" y="174.0" width="3.0" height="30.0"/><rect x="369.46" y="246.5" width="3.0" height="37.5"/><rect x="382.14" y="341.0" width="3.0" height="19.0"/><rect x="390.59" y="391.5" width="3.0" height="23.5"/><rect x="403.27" y="419.0" width="3.0" height="45.0"/><rect x="407.50" y="418.0" width="3.0" height="1.0"/><rect x="420.17" y="413.0" width="3.0" height="24.0"/><rect x="428.63" y="416.0" width="3.0" height="3.0"/><rect x="432.85" y="414.0" width="3.0" height="2.0"/><rect x="449.76" y="421.4" width="3.0" height="25.1"/><rect x="453.98" y="400.0" width="3.0" height="21.4"/><rect x="462.43" y="404.5" width="3.0" height="1.0"/><rect x="475.11" y="421.0" width="3.0" height="5.4"/><rect x="487.79" y="436.0" width="3.0" height="9.0"/><rect x="496.24" y="434.0" width="3.0" height="7.0"/><rect x="504.69" y="430.0" width="3.0" height="17.7"/><rect x="508.92" y="416.0" width="3.0" height="14.0"/><rect x="525.82" y="434.0" width="3.0" height="9.0"/><rect x="530.05" y="424.0" width="3.0" height="10.0"/><rect x="534.28" y="398.8" width="3.0" height="25.2"/><rect x="542.73" y="345.0" width="3.0" height="65.0"/><rect x="546.95" y="287.7" width="3.0" height="57.3"/><rect x="555.41" y="294.0" width="3.0" height="22.5"/><rect x="559.63" y="257.6" width="3.0" height="36.4"/><rect x="572.31" y="280.0" width="3.0" height="4.0"/><rect x="580.76" y="306.5" width="3.0" height="8.5"/><rect x="584.99" y="243.8" width="3.0" height="62.7"/><rect x="610.34" y="436.0" width="3.0" height="107.0"/><rect x="627.25" y="465.0" width="3.0" height="14.0"/><rect x="631.47" y="460.0" width="3.0" height="5.0"/><rect x="644.15" y="482.7" width="3.0" height="6.3"/><rect x="648.38" y="479.0" width="3.0" height="3.7"/><rect x="661.06" y="529.0" width="3.0" height="11.0"/><rect x="665.28" y="497.7" width="3.0" height="31.3"/><rect x="669.51" y="486.5" width="3.0" height="11.2"/><rect x="677.96" y="485.0" width="3.0" height="5.0"/><rect x="690.64" y="480.0" width="3.0" height="27.8"/><rect x="694.86" y="436.0" width="3.0" height="44.0"/><rect x="703.32" y="436.5" width="3.0" height="9.5"/><rect x="711.77" y="444.0" width="3.0" height="22.4"/><rect x="720.22" y="449.0" width="3.0" height="7.4"/><rect x="728.67" y="444.0" width="3.0" height="28.7"/><rect x="737.12" y="452.7" width="3.0" height="1.3"/><rect x="745.58" y="446.4" width="3.0" height="8.6"/><rect x="749.80" y="421.0" width="3.0" height="25.4"/><rect x="766.71" y="495.0" width="3.0" height="12.8"/><rect x="779.38" y="480.0" width="3.0" height="27.8"/><rect x="787.84" y="480.0" width="3.0" height="2.7"/><rect x="792.06" y="479.0" width="3.0" height="1.0"/><rect x="796.29" y="477.7" width="3.0" height="1.3"/><rect x="804.74" y="474.0" width="3.0" height="6.0"/><rect x="817.42" y="489.0" width="3.0" height="5.0"/><rect x="825.87" y="491.0" width="3.0" height="2.0"/><rect x="830.10" y="488.0" width="3.0" height="3.0"/><rect x="834.32" y="480.0" width="3.0" height="8.0"/><rect x="838.55" y="479.5" width="3.0" height="1.0"/><rect x="842.77" y="456.5" width="3.0" height="23.5"/><rect x="851.23" y="450.0" width="3.0" height="11.6"/><rect x="859.68" y="439.0" width="3.0" height="15.0"/><rect x="863.90" y="422.7" width="3.0" height="16.3"/><rect x="868.13" y="413.0" width="3.0" height="9.7"/><rect x="872.36" y="385.0" width="3.0" height="28.0"/><rect x="876.58" y="369.0" width="3.0" height="16.0"/><rect x="880.81" y="350.0" width="3.0" height="19.0"/><rect x="885.03" y="296.0" width="3.0" height="54.0"/><rect x="889.26" y="295.5" width="3.0" height="1.0"/><rect x="893.49" y="281.0" width="3.0" height="15.0"/><rect x="906.16" y="296.0" width="3.0" height="23.0"/><rect x="910.39" y="235.0" width="3.0" height="61.0"/><rect x="918.84" y="254.0" width="3.0" height="1.0"/><rect x="923.07" y="253.5" width="3.0" height="1.0"/><rect x="931.52" y="262.0" width="3.0" height="31.6"/><rect x="948.42" y="244.0" width="3.0" height="41.0"/><rect x="956.88" y="277.0" width="3.0" height="10.7"/><rect x="961.10" y="245.0" width="3.0" height="32.0"/><rect x="965.33" y="244.0" width="3.0" height="1.0"/><rect x="969.55" y="233.0" width="3.0" height="11.0"/><rect x="973.78" y="232.0" width="3.0" height="1.0"/><rect x="986.46" y="229.0" width="3.0" height="32.6"/><rect x="1003.36" y="301.0" width="3.0" height="16.0"/><rect x="1016.04" y="292.0" width="3.0" height="29.0"/><rect x="1020.27" y="227.0" width="3.0" height="65.0"/><rect x="1028.72" y="217.6" width="3.0" height="31.7"/><rect x="1041.40" y="212.0" width="3.0" height="14.0"/><rect x="1054.07" y="241.0" width="3.0" height="5.0"/><rect x="1066.75" y="246.0" width="3.0" height="26.0"/><rect x="1079.43" y="233.0" width="3.0" height="34.0"/></g>
<g fill="#ef4b5b"><rect x="6.03" y="528.5" width="3.0" height="1.0"/><rect x="10.25" y="529.0" width="3.0" height="1.0"/><rect x="14.48" y="530.0" width="3.0" height="44.0"/><rect x="31.38" y="465.0" width="3.0" height="25.0"/><rect x="35.61" y="490.0" width="3.0" height="4.0"/><rect x="39.83" y="494.0" width="3.0" height="27.0"/><rect x="44.06" y="521.0" width="3.0" height="23.0"/><rect x="48.29" y="544.0" width="3.0" height="16.0"/><rect x="52.51" y="560.0" width="3.0" height="7.0"/><rect x="69.42" y="515.0" width="3.0" height="13.0"/><rect x="82.09" y="468.0" width="3.0" height="15.0"/><rect x="90.55" y="479.0" width="3.0" height="29.0"/><rect x="94.77" y="508.0" width="3.0" height="38.0"/><rect x="99.00" y="546.0" width="3.0" height="34.0"/><rect x="120.13" y="403.0" width="3.0" height="9.0"/><rect x="128.58" y="279.0" width="3.0" height="21.0"/><rect x="132.81" y="300.0" width="3.0" height="11.0"/><rect x="141.26" y="283.0" width="3.0" height="21.0"/><rect x="153.94" y="270.0" width="3.0" height="88.0"/><rect x="170.84" y="200.0" width="3.0" height="1.0"/><rect x="175.07" y="201.0" width="3.0" height="14.0"/><rect x="179.29" y="215.0" width="3.0" height="10.0"/><rect x="183.52" y="225.0" width="3.0" height="28.0"/><rect x="191.97" y="251.0" width="3.0" height="8.0"/><rect x="196.20" y="259.0" width="3.0" height="6.0"/><rect x="204.65" y="194.0" width="3.0" height="26.0"/><rect x="217.33" y="171.6" width="3.0" height="46.4"/><rect x="238.46" y="57.6" width="3.0" height="27.4"/><rect x="242.68" y="85.0" width="3.0" height="19.0"/><rect x="246.91" y="104.0" width="3.0" height="13.7"/><rect x="251.13" y="117.7" width="3.0" height="22.3"/><rect x="259.59" y="133.0" width="3.0" height="131.0"/><rect x="263.81" y="264.0" width="3.0" height="19.0"/><rect x="280.72" y="233.0" width="3.0" height="5.0"/><rect x="289.17" y="216.5" width="3.0" height="102.5"/><rect x="293.39" y="319.0" width="3.0" height="10.0"/><rect x="297.62" y="329.0" width="3.0" height="35.0"/><rect x="306.07" y="295.0" width="3.0" height="15.0"/><rect x="318.75" y="276.5" width="3.0" height="6.2"/><rect x="322.98" y="282.7" width="3.0" height="8.8"/><rect x="335.65" y="257.7" width="3.0" height="33.8"/><rect x="356.78" y="174.0" width="3.0" height="2.0"/><rect x="361.01" y="176.0" width="3.0" height="29.0"/><rect x="365.24" y="205.0" width="3.0" height="79.0"/><rect x="373.69" y="246.5" width="3.0" height="92.5"/><rect x="377.91" y="339.0" width="3.0" height="21.0"/><rect x="386.37" y="341.0" width="3.0" height="74.0"/><rect x="394.82" y="391.5" width="3.0" height="30.1"/><rect x="399.04" y="421.6" width="3.0" height="42.4"/><rect x="411.72" y="418.0" width="3.0" height="8.6"/><rect x="415.95" y="426.6" width="3.0" height="10.4"/><rect x="424.40" y="413.0" width="3.0" height="6.0"/><rect x="437.08" y="414.0" width="3.0" height="3.7"/><rect x="441.30" y="417.7" width="3.0" height="10.0"/><rect x="445.53" y="427.7" width="3.0" height="18.8"/><rect x="458.21" y="400.0" width="3.0" height="5.0"/><rect x="466.66" y="405.0" width="3.0" height="11.4"/><rect x="470.89" y="416.4" width="3.0" height="10.0"/><rect x="479.34" y="421.0" width="3.0" height="18.0"/><rect x="483.56" y="439.0" width="3.0" height="6.0"/><rect x="492.02" y="436.0" width="3.0" height="5.0"/><rect x="500.47" y="434.0" width="3.0" height="13.7"/><rect x="513.15" y="416.0" width="3.0" height="11.6"/><rect x="517.37" y="427.6" width="3.0" height="15.1"/><rect x="521.60" y="442.4" width="3.0" height="1.0"/><rect x="538.50" y="398.8" width="3.0" height="11.2"/><rect x="551.18" y="287.7" width="3.0" height="28.8"/><rect x="563.86" y="257.6" width="3.0" height="16.4"/><rect x="568.08" y="274.0" width="3.0" height="10.0"/><rect x="576.54" y="280.0" width="3.0" height="35.0"/><rect x="589.21" y="243.8" width="3.0" height="10.0"/><rect x="593.44" y="253.8" width="3.0" height="32.6"/><rect x="597.67" y="286.4" width="3.0" height="1.3"/><rect x="601.89" y="287.7" width="3.0" height="127.3"/><rect x="606.12" y="415.0" width="3.0" height="128.0"/><rect x="614.57" y="436.0" width="3.0" height="6.6"/><rect x="618.80" y="442.6" width="3.0" height="16.4"/><rect x="623.02" y="459.0" width="3.0" height="20.0"/><rect x="635.70" y="460.0" width="3.0" height="20.0"/><rect x="639.93" y="480.0" width="3.0" height="9.0"/><rect x="652.60" y="479.0" width="3.0" height="44.0"/><rect x="656.83" y="523.0" width="3.0" height="17.0"/><rect x="673.73" y="486.5" width="3.0" height="3.5"/><rect x="682.19" y="485.0" width="3.0" height="7.7"/><rect x="686.41" y="492.7" width="3.0" height="15.1"/><rect x="699.09" y="436.0" width="3.0" height="10.0"/><rect x="707.54" y="436.5" width="3.0" height="29.9"/><rect x="715.99" y="444.0" width="3.0" height="12.4"/><rect x="724.45" y="449.0" width="3.0" height="23.7"/><rect x="732.90" y="444.0" width="3.0" height="10.0"/><rect x="741.35" y="452.7" width="3.0" height="2.3"/><rect x="754.03" y="421.0" width="3.0" height="9.0"/><rect x="758.25" y="430.0" width="3.0" height="22.6"/><rect x="762.48" y="452.6" width="3.0" height="55.2"/><rect x="770.93" y="495.0" width="3.0" height="4.0"/><rect x="775.16" y="499.0" width="3.0" height="8.8"/><rect x="783.61" y="480.0" width="3.0" height="2.7"/><rect x="800.51" y="477.7" width="3.0" height="2.3"/><rect x="808.97" y="474.0" width="3.0" height="10.0"/><rect x="813.19" y="484.0" width="3.0" height="10.0"/><rect x="821.64" y="489.0" width="3.0" height="4.0"/><rect x="847.00" y="456.5" width="3.0" height="5.1"/><rect x="855.45" y="450.0" width="3.0" height="4.0"/><rect x="897.71" y="281.0" width="3.0" height="7.0"/><rect x="901.94" y="288.0" width="3.0" height="31.0"/><rect x="914.62" y="235.0" width="3.0" height="20.0"/><rect x="927.29" y="254.0" width="3.0" height="39.6"/><rect x="935.75" y="262.0" width="3.0" height="6.5"/><rect x="939.97" y="268.5" width="3.0" height="1.5"/><rect x="944.20" y="270.0" width="3.0" height="15.0"/><rect x="952.65" y="244.0" width="3.0" height="43.7"/><rect x="978.01" y="232.0" width="3.0" height="20.5"/><rect x="982.23" y="252.5" width="3.0" height="9.1"/><rect x="990.68" y="229.0" width="3.0" height="12.4"/><rect x="994.91" y="241.4" width="3.0" height="57.6"/><rect x="999.14" y="299.0" width="3.0" height="18.0"/><rect x="1007.59" y="301.0" width="3.0" height="15.0"/><rect x="1011.81" y="316.0" width="3.0" height="5.0"/><rect x="1024.49" y="227.0" width="3.0" height="22.3"/><rect x="1032.94" y="217.6" width="3.0" height="4.4"/><rect x="1037.17" y="222.0" width="3.0" height="4.0"/><rect x="1045.62" y="212.0" width="3.0" height="24.0"/><rect x="1049.85" y="236.0" width="3.0" height="10.0"/><rect x="1058.30" y="241.0" width="3.0" height="24.0"/><rect x="1062.53" y="265.0" width="3.0" height="7.0"/><rect x="1070.98" y="246.0" width="3.0" height="5.0"/><rect x="1075.20" y="251.0" width="3.0" height="16.0"/><rect x="1083.66" y="233.0" width="3.0" height="9.6"/><rect x="1087.88" y="242.6" width="3.0" height="45.4"/></g>
<g class="pa"><text x="1154.6" y="29.8">2040.00</text><text x="1154.6" y="51.8">2000.00</text><text x="1154.6" y="73.8">1960.00</text><text x="1154.6" y="95.9">1920.00</text><text x="1154.6" y="117.9">1880.00</text><text x="1154.6" y="139.9">1840.00</text><text x="1154.6" y="161.9">1800.00</text><text x="1154.6" y="183.9">1760.00</text><text x="1154.6" y="206.0">1720.00</text><text x="1154.6" y="228.0">1680.00</text><text x="1154.6" y="250.0">1640.00</text><text x="1154.6" y="272.0">1600.00</text><text x="1154.6" y="316.1">1520.00</text><text x="1154.6" y="338.1">1480.00</text><text x="1154.6" y="360.1">1440.00</text><text x="1154.6" y="382.1">1400.00</text><text x="1154.6" y="404.1">1360.00</text><text x="1154.6" y="426.2">1320.00</text><text x="1154.6" y="448.2">1280.00</text><text x="1154.6" y="470.2">1240.00</text><text x="1154.6" y="492.2">1200.00</text><text x="1154.6" y="514.2">1160.00</text><text x="1154.6" y="536.3">1120.00</text><text x="1154.6" y="558.3">1080.00</text><text x="1154.6" y="580.3">1040.00</text><text x="1154.6" y="602.3">1000.00</text><text x="1154.6" y="624.3">960.00</text><text x="1154.6" y="646.4">920.00</text><text x="1154.6" y="668.4">880.00</text><text x="1154.6" y="690.4">840.00</text></g>
<g class="ta" text-anchor="middle"><text x="54.0" y="712">Jul</text><text x="125.9" y="712">18</text><text x="185.0" y="712">Aug</text><text x="244.2" y="712">15</text><text x="316.0" y="712">Sep</text><text x="392.1" y="712">19</text><text x="442.8" y="712">Oct</text><text x="510.4" y="712">17</text><text x="573.8" y="712">Nov</text><text x="628.7" y="712">14</text><text x="700.6" y="712">Dec</text><text x="776.7" y="712">19</text><text x="831.6" y="712" class="b">2023</text><text x="895.0" y="712">16</text><text x="962.6" y="712">Feb</text><text x="1013.3" y="712">13</text><text x="1080.9" y="712">Mar</text><text x="1131.6" y="712">13</text></g>
</svg>
<!-- header -->
<div class="t hdr" style="left:2px;top:2px;font-size:9.7px;letter-spacing:-0.22px;">Ethereum / U.S. Dollar · 1D · COINBASE</div>
<svg width="10" height="10" style="left:176px;top:2px;"><path d="M1 1.6H8.2L6.6 5L8.2 8.4H1Z" fill="#f23645"/></svg>
<div class="t" style="left:197.5px;top:5px;width:5px;height:5px;border-radius:50%;background:#22ab94;box-shadow:0 0 3px 1px rgba(34,171,148,0.5);"></div>
<div class="t hdr" style="left:216.5px;top:3px;font-size:8.6px;font-weight:bold;">O</div>
<div class="t hdr red" style="left:222.6px;top:3px;font-size:8.6px;">1647.82</div>
<div class="t hdr" style="left:257px;top:3px;font-size:8.6px;font-weight:bold;">H</div>
<div class="t hdr red" style="left:262.5px;top:3px;font-size:8.6px;">1649.28</div>
<div class="t hdr" style="left:299px;top:3px;font-size:8.6px;font-weight:bold;">L</div>
<div class="t hdr red" style="left:304px;top:3px;font-size:8.6px;">1550.00</div>
<div class="t hdr" style="left:338.5px;top:3px;font-size:8.6px;font-weight:bold;">C</div>
<div class="t hdr red" style="left:344.5px;top:3px;font-size:8.6px;">1564.66</div>
<div class="t hdr red" style="left:378px;top:3px;font-size:8.6px;">−83.21 (−5.05%)</div>
<div class="box" style="left:1.6px;top:15.7px;width:39.6px;height:14.8px;border-color:#b03040;color:#e04a55;">1564.50</div>
<div class="t hdr" style="left:47px;top:19.5px;font-size:8px;">0.09</div>
<div class="box" style="left:67.3px;top:15.7px;width:40.2px;height:14.8px;border-color:#2a3f9a;color:#3a5fd0;">1564.59</div>
<div class="t hdr" style="left:2px;top:37px;font-size:8.2px;letter-spacing:-0.3px;">Vol · ETH</div>
<div class="t hdr red" style="left:43.5px;top:37px;font-size:8.2px;">104.941K</div>
<!-- price axis extras -->
<div class="t" style="left:1154px;top:1.3px;font-size:7px;color:#b8bbc3;">USD</div><div class="t" style="left:1171px;top:4px;width:3px;height:1.3px;background:#b8bbc3;"></div>
<div class="t" style="left:1112px;top:284px;width:35px;height:10px;background:#f23645;color:#fff;font-size:7px;line-height:10px;text-align:center;">ETHUSD</div>
<div class="t" style="left:1148px;top:284px;width:41.5px;height:18px;background:#f23645;color:#fff;font-size:7.8px;line-height:8.6px;text-align:center;padding-top:1.2px;box-sizing:border-box;">1564.66<br>16:56:41</div>
<!-- badge -->
<div class="t" style="left:5px;top:663px;width:112px;height:29px;border-radius:15px;background:#131722;box-shadow:0 0 0 1px rgba(60,64,80,0.6);"></div>
<svg width="17.6" height="9" viewBox="0 4 36 18" style="left:13.6px;top:674px;"><path fill="#fff" d="M14 22H7V11H0V4h14v18zM28 22h-8l7.5-18h8L28 22z"/><circle fill="#fff" cx="20" cy="8" r="4"/></svg>
<div class="t" style="left:35.5px;top:673px;color:#fff;font-size:12.6px;font-weight:bold;letter-spacing:-0.25px;">TradingView</div>
<!-- bottom icons -->
<svg width="1194" height="718" style="left:0;top:0;pointer-events:none;">
<defs><clipPath id="cf1"><circle cx="1090" cy="692" r="5.6"/></clipPath><clipPath id="cf2"><circle cx="1105.6" cy="692" r="5.6"/></clipPath><clipPath id="cf3"><circle cx="1112.5" cy="692" r="5.6"/></clipPath></defs>
<circle cx="1090" cy="677.8" r="5.6" fill="#2a0f45" stroke="#9a68c0" stroke-width="1.3"/>
<path d="M1091.2 674.6 L1088.6 678.3 L1090.8 678.3 L1089.2 681.2" stroke="#a57ad8" stroke-width="1.1" fill="none"/>
<g clip-path="url(#cf3)"><circle cx="1112.5" cy="692" r="5.6" fill="#b3303e"/><rect x="1106" y="689.5" width="14" height="1.6" fill="#f0e8ec"/><rect x="1106" y="692.6" width="14" height="1.6" fill="#f0e8ec"/></g>
<circle cx="1112.5" cy="692" r="5.6" fill="none" stroke="#7a1a28" stroke-width="0.8"/>
<g clip-path="url(#cf1)"><circle cx="1090" cy="692" r="5.6" fill="#b3303e"/><rect x="1084" y="689.4" width="12" height="5.4" fill="#f2eef2"/><rect x="1084" y="691.6" width="12" height="1" fill="#d05060"/><rect x="1084" y="687.8" width="4.6" height="3.8" fill="#4a78c8"/></g>
<circle cx="1090" cy="692" r="5.6" fill="none" stroke="#7a1a28" stroke-width="0.8"/>
<g clip-path="url(#cf2)"><circle cx="1105.6" cy="692" r="5.6" fill="#b3303e"/><rect x="1099" y="689.4" width="13" height="5.4" fill="#f2eef2"/><rect x="1099" y="691.6" width="13" height="1" fill="#d05060"/><rect x="1099.6" y="687.8" width="4.6" height="3.8" fill="#4a78c8"/></g>
<circle cx="1105.6" cy="692" r="5.6" fill="none" stroke="#7a1a28" stroke-width="0.8"/>
<circle cx="1170.3" cy="708.7" r="2.9" fill="none" stroke="#9598a1" stroke-width="1.2"/>
<circle cx="1170.3" cy="708.7" r="4.1" fill="none" stroke="#9598a1" stroke-width="1.2" stroke-dasharray="1.2 1.4"/>
</svg>
</body></html>
